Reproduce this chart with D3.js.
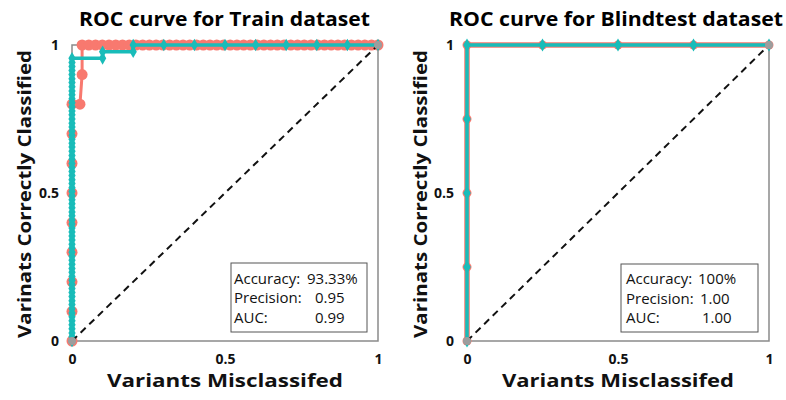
<!DOCTYPE html>
<html><head><meta charset="utf-8">
<script src="https://cdn.jsdelivr.net/npm/d3@7"></script>
<style>body{margin:0;background:#fff;} svg{display:block;}</style>
</head><body>
<svg id="c" width="786" height="400"></svg>
<script>
// ---------- data ----------
const titles = ["ROC curve for Train dataset", "ROC curve for Blindtest dataset"];
const xAxisTitle = "Variants Misclassifed";
const yAxisTitle = "Varinats Correctly Classified";
const tickValues = [0, 0.5, 1];
const tickLabels = ["0", "0.5", "1"];

// Train, red series
const trainRedX = [0,0,0,0,0,0,0,0,0,0.026,0.033,
  0.033,0.055,0.077,0.099,0.121,0.143,0.165,0.187,0.209,0.231,0.253,0.275,0.297,0.319,0.341,0.363,0.385,0.407,0.429,0.451,0.473,0.495,0.517,0.539,0.561,0.583,0.605,0.627,0.649,0.671,0.693,0.715,0.737,0.759,0.781,0.803,0.825,0.847,0.869,0.891,0.913,0.935,0.957,0.979,1];
const trainRedY = [0,0.1,0.2,0.3,0.4,0.5,0.6,0.7,0.8,0.8,0.9,
  1,1,1,1,1,1,1,1,1,1,1,1,1,1,1,1,1,1,1,1,1,1,1,1,1,1,1,1,1,1,1,1,1,1,1,1,1,1,1,1,1,1,1,1,1];

// Train, teal series
const trainTealY = [0,0.014,0.027,0.041,0.055,0.068,0.082,0.095,0.109,0.123,0.136,0.150,0.164,0.177,0.191,0.205,0.218,0.232,0.245,0.259,0.273,0.286,0.300,0.314,0.327,0.341,0.355,0.368,0.382,0.395,0.409,0.423,0.436,0.450,0.464,0.477,0.491,0.505,0.518,0.532,0.545,0.559,0.573,0.586,0.600,0.614,0.627,0.641,0.655,0.668,0.682,0.695,0.709,0.723,0.736,0.750,0.764,0.777,0.791,0.805,0.818,0.832,0.845,0.859,0.873,0.886,0.900,0.914,0.927,0.941,0.955,
  0.955,0.977,0.977,1,1,1,1,1,1,1,1,1];
const trainTealX = [0,0,0,0,0,0,0,0,0,0,0,0,0,0,0,0,0,0,0,0,0,0,0,0,0,0,0,0,0,0,0,0,0,0,0,0,0,0,0,0,0,0,0,0,0,0,0,0,0,0,0,0,0,0,0,0,0,0,0,0,0,0,0,0,0,0,0,0,0,0,0,
  0.1,0.1,0.2,0.2,0.3,0.4,0.5,0.6,0.7,0.8,0.9,1];

// Blindtest, both series
const blindX = [0,0,0,0,0,0.25,0.5,0.75,1];
const blindY = [0,0.25,0.5,0.75,1,1,1,1,1];

// Chance diagonal
const diagX = [0,1];
const diagY = [0,1];

const metricNames = ["Accuracy:", "Precision:", "AUC:"];
const trainMetrics = ["93.33%", "0.95", "0.99"];
const blindMetrics = ["100%", "1.00", "1.00"];

// ---------- drawing ----------
const RED = "#F8796F", TEAL = "#19BCB9", GRAY = "#8a8a8a";
const FONT = "'Open Sans', Lato, sans-serif";
const svg = d3.select("#c").style("font-family", FONT);

const panels = [
  {x0:72, x1:378, title:titles[0], tcx:224.5, tw:291, ylabX:31, xlabW:236,
   red:{x:trainRedX,y:trainRedY,r:5.5,w:3}, teal:{x:trainTealX,y:trainTealY,s:46,w:3.5},
   box:{x:231,y:263,w:136,h:69,tx:234,vx:[307,315,315],by:[283.5,303,322.5]}, metrics:trainMetrics},
  {x0:467, x1:769, title:titles[1], tcx:616, tw:334, ylabX:427, xlabW:232,
   red:{x:blindX,y:blindY,r:4.5,w:5.5}, teal:{x:blindX,y:blindY,s:50,w:3.5},
   box:{x:621,y:264,w:137,h:68,tx:626,vx:[698,700,702],by:[284,304,323]}, metrics:blindMetrics}
];

panels.forEach(p => {
  const x = d3.scaleLinear().domain([0,1]).range([p.x0, p.x1]);
  const y = d3.scaleLinear().domain([0,1]).range([341, 45]);
  const g = svg.append("g");

  // frame
  g.append("rect").attr("x", x(0)).attr("y", y(1)).attr("width", x(1)-x(0)).attr("height", y(0)-y(1))
    .attr("fill","none").attr("stroke",GRAY).attr("stroke-width",1.5);

  // axes
  const ya = g.append("g").attr("transform",`translate(${x(0)},0)`)
    .call(d3.axisLeft(y).tickValues(tickValues).tickFormat((d,i)=>tickLabels[i]).tickSize(0).tickPadding(13));
  const xa = g.append("g").attr("transform",`translate(0,${y(0)})`)
    .call(d3.axisBottom(x).tickValues(tickValues).tickFormat((d,i)=>tickLabels[i]).tickSize(0).tickPadding(13));
  [ya, xa].forEach(a => {
    a.select(".domain").remove();
    a.selectAll("text").attr("font-family",FONT).attr("font-size",14).attr("font-weight","bold").attr("fill","#111");
  });

  // red series
  const line = (xs, ys) => d3.line().x((d,i)=>x(xs[i])).y((d,i)=>y(ys[i]))(xs);
  g.append("path").attr("d", line(p.red.x, p.red.y)).attr("fill","none").attr("stroke",RED).attr("stroke-width",p.red.w);
  g.append("g").selectAll("circle").data(p.red.x).join("circle")
    .attr("cx",(d,i)=>x(p.red.x[i])).attr("cy",(d,i)=>y(p.red.y[i])).attr("r",p.red.r).attr("fill",RED);

  // teal series
  g.append("path").attr("d", line(p.teal.x, p.teal.y)).attr("fill","none").attr("stroke",TEAL).attr("stroke-width",p.teal.w);
  const diamond = d3.symbol().type(d3.symbolDiamond).size(p.teal.s);
  g.append("g").selectAll("path").data(p.teal.x).join("path")
    .attr("transform",(d,i)=>`translate(${x(p.teal.x[i])},${y(p.teal.y[i])})`)
    .attr("d", diamond).attr("fill",TEAL);

  // diagonal
  g.append("path").attr("d", line(diagX, diagY)).attr("fill","none").attr("stroke","#111")
    .attr("stroke-width",2).attr("stroke-dasharray","7,5");
  g.append("g").selectAll("circle").data(diagX).join("circle")
    .attr("cx",(d,i)=>x(diagX[i])).attr("cy",(d,i)=>y(diagY[i])).attr("r",4).attr("fill","#9d9d9d");

  // metrics box
  const b = p.box;
  g.append("rect").attr("x",b.x).attr("y",b.y).attr("width",b.w).attr("height",b.h)
    .attr("fill","#fff").attr("stroke","#555").attr("stroke-width",1);
  metricNames.forEach((m,i) => {
    g.append("text").attr("x",b.tx).attr("y",b.by[i]).attr("font-size",15).attr("fill","#111").text(m);
    g.append("text").attr("x",b.vx[i]).attr("y",b.by[i]).attr("font-size",15).attr("fill","#111").text(p.metrics[i]);
  });

  // titles
  g.append("text").attr("x",p.tcx).attr("y",26).attr("text-anchor","middle").attr("font-size",20)
    .attr("font-weight","bold").attr("fill","#000")
    .attr("textLength",p.tw).attr("lengthAdjust","spacingAndGlyphs").text(p.title);
  g.append("text").attr("x",(x(0)+x(1))/2).attr("y",387).attr("text-anchor","middle").attr("font-size",18.5)
    .attr("font-weight","bold").attr("fill","#111")
    .attr("textLength",p.xlabW).attr("lengthAdjust","spacingAndGlyphs").text(xAxisTitle);
  g.append("text").attr("transform",`translate(${p.ylabX},194) rotate(-90)`).attr("text-anchor","middle")
    .attr("font-size",18.5).attr("font-weight","bold").attr("fill","#111")
    .attr("textLength",288).attr("lengthAdjust","spacingAndGlyphs").text(yAxisTitle);
});
</script>
</body></html>
